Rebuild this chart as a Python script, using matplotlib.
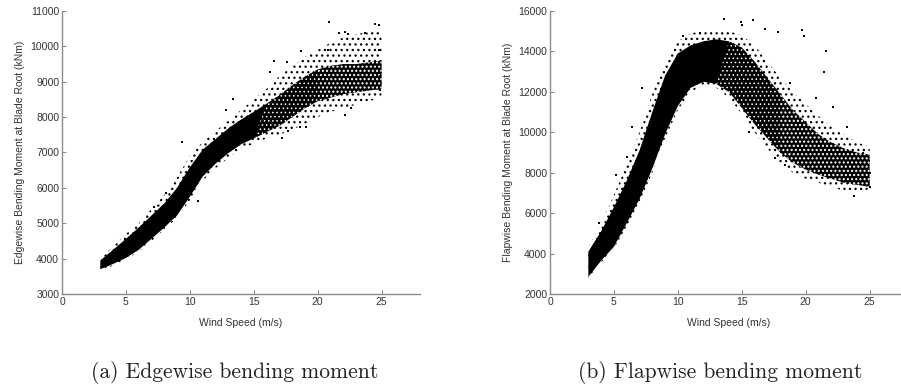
import matplotlib
matplotlib.use("Agg")
import matplotlib.pyplot as plt
import numpy as np

# ---------------- data ----------------
wind_speed = [3, 4, 5, 6, 7, 8, 9, 10, 11, 12, 13, 14, 15, 16, 17, 18, 19, 20, 21, 22, 23, 24, 25]

# Edgewise bending moment (kNm): dense core and sparser halo of the point cloud
edge_core_lo = [3700, 3850, 4020, 4250, 4560, 4880, 5220, 5750, 6320, 6680, 6980, 7230, 7400, 7580, 7750, 8000, 8250, 8450, 8550, 8650, 8700, 8750, 8800]
edge_core_hi = [3950, 4250, 4560, 4880, 5220, 5560, 6000, 6580, 7080, 7380, 7680, 7930, 8150, 8380, 8620, 8900, 9150, 9350, 9450, 9500, 9500, 9550, 9600]
edge_halo_lo = [3680, 3800, 3980, 4200, 4500, 4820, 5150, 5650, 6200, 6550, 6850, 7100, 7250, 7400, 7500, 7650, 7800, 8000, 8150, 8250, 8350, 8450, 8550]
edge_halo_hi = [4000, 4350, 4700, 5000, 5400, 5800, 6300, 6900, 7300, 7600, 7900, 8200, 8500, 8800, 9150, 9450, 9700, 9900, 10100, 10250, 10350, 10400, 10450]
edge_out_ws = [9.4, 8.1, 10.6, 16.6, 17.6, 16.3, 13.4, 18.7, 20.8, 20.9, 21.7, 22.1, 22.4, 23.7, 24.5, 24.8, 24.8, 24.9, 24.9, 22.1, 22.6, 19.1, 18.6, 17.7, 17.2, 12.8, 7.2]
edge_out_m = [7300, 5850, 5620, 9600, 9570, 9270, 8510, 9870, 9910, 10690, 10370, 10400, 10350, 10370, 10630, 10600, 9900, 9150, 8780, 8060, 8270, 7730, 7730, 7600, 7420, 8200, 5450]

# Flapwise bending moment (kNm)
flap_core_lo = [2850, 3650, 4340, 5500, 6700, 8200, 9900, 11300, 12200, 12500, 12400, 12000, 11200, 10400, 9700, 9000, 8500, 8150, 7900, 7700, 7500, 7400, 7300]
flap_core_hi = [4100, 5100, 6300, 7600, 9100, 11000, 12800, 13900, 14300, 14500, 14600, 14500, 14200, 13500, 12700, 11900, 11100, 10500, 9900, 9500, 9200, 9000, 8900]
flap_halo_lo = [2800, 3550, 4250, 5350, 6550, 8000, 9700, 11100, 12000, 12300, 12200, 11700, 10900, 10000, 9200, 8500, 8000, 7700, 7500, 7300, 7100, 7000, 7200]
flap_halo_hi = [4300, 5500, 6900, 8400, 10000, 11900, 13500, 14500, 14900, 15000, 15000, 15000, 14800, 14300, 13500, 12700, 12000, 11400, 10800, 10300, 9900, 9500, 9300]
flap_out_ws = [19.7, 19.9, 21.6, 21.4, 23.8, 13.6, 15.9, 14.9, 15.0, 17.8, 16.8, 10.4, 11.7, 17.6, 18.4, 15.6, 23.4, 25.0, 25.0, 24.5, 23.2, 22.1, 20.8, 18.8, 6.4, 5.15, 3.85, 7.2, 6.0]
flap_out_m = [15060, 14760, 14040, 13000, 6850, 15590, 15560, 15470, 15310, 14980, 15090, 14760, 14900, 8710, 8380, 10030, 7970, 7310, 7970, 8960, 10280, 11270, 11680, 12420, 10280, 7890, 5530, 12170, 8790]

x_ticks = [0, 5, 10, 15, 20, 25]
edge_yticks = [3000, 4000, 5000, 6000, 7000, 8000, 9000, 10000, 11000]
flap_yticks = [2000, 4000, 6000, 8000, 10000, 12000, 14000, 16000]

# ---------------- figure ----------------
plt.rcParams['font.family'] = ['Liberation Sans', 'DejaVu Sans']

W, H = 901, 389
fig = plt.figure(figsize=(W / 100, H / 100), dpi=100)

axL = fig.add_axes([62 / W, 95 / H, 358 / W, 283 / H])
axR = fig.add_axes([550 / W, 95 / H, 358 / W, 283 / H])

ws = np.array(wind_speed)


def fill(ax, lo, hi, where, hatch_lw=None, **kw):
    if hatch_lw is not None:
        plt.rcParams['hatch.linewidth'] = hatch_lw
    p = ax.fill_between(ws, lo, hi, where=where, interpolate=True, linewidth=0, **kw)
    if hatch_lw is not None and hasattr(p, 'set_hatch_linewidth'):
        p.set_hatch_linewidth(hatch_lw)
    return p


def draw(ax, core_lo, core_hi, halo_lo, halo_hi, out_ws, out_m, dense_until, sparse_from):
    allx = np.ones_like(ws, dtype=bool)
    # sparse halo of scattered points
    fill(ax, halo_lo, halo_hi, allx, hatch_lw=0.9,
         facecolor='none', edgecolor='black', hatch='...')
    # dense, fully overlapping points
    fill(ax, core_lo, core_hi, ws <= dense_until, facecolor='black')
    # speckled part of the core (black with small white gaps)
    fill(ax, core_lo, core_hi, (ws >= dense_until) & (ws <= sparse_from), hatch_lw=0.6,
         facecolor='black', edgecolor='white', hatch='....')
    fill(ax, core_lo, core_hi, ws >= sparse_from, hatch_lw=1.0,
         facecolor='black', edgecolor='white', hatch='....')
    ax.scatter(out_ws, out_m, s=3, marker='s', color='black', linewidths=0)


draw(axL, edge_core_lo, edge_core_hi, edge_halo_lo, edge_halo_hi, edge_out_ws, edge_out_m, 16, 20)
draw(axR, flap_core_lo, flap_core_hi, flap_halo_lo, flap_halo_hi, flap_out_ws, flap_out_m, 14, 18)

for ax, yt, ylab in [(axL, edge_yticks, 'Edgewise Bending Moment at Blade Root (kNm)'),
                     (axR, flap_yticks, 'Flapwise Bending Moment at Blade Root (kNm)')]:
    ax.set_xlim(0, 28)
    ax.set_ylim(yt[0], yt[-1])
    ax.set_xticks(x_ticks)
    ax.set_yticks(yt)
    ax.set_xticklabels([str(v) for v in x_ticks])
    ax.set_yticklabels([str(v) for v in yt])
    for s in ['top', 'right']:
        ax.spines[s].set_visible(False)
    for s in ['left', 'bottom']:
        ax.spines[s].set_color('#8c8c8c')
        ax.spines[s].set_linewidth(1.0)
    ax.tick_params(direction='in', length=3, width=0.8, color='#8c8c8c',
                   labelsize=7.5, labelcolor='#333333', pad=2)
    ax.set_xlabel('Wind Speed (m/s)', fontsize=7.5, color='#333333', labelpad=1)
    ax.set_ylabel(ylab, fontsize=7.5, color='#333333', labelpad=4)
    ax.set_facecolor('none')

axR.xaxis.set_label_coords((729 - 550) / 358, -0.085)
axL.xaxis.set_label_coords((241 - 62) / 358, -0.085)

fig.text(235 / W, 16 / H, '(a) Edgewise bending moment', family='cmr10', fontsize=15.5,
         ha='center', va='center', color='#222222')
fig.text(720 / W, 16 / H, '(b) Flapwise bending moment', family='cmr10', fontsize=15.5,
         ha='center', va='center', color='#222222')

fig.savefig('out.png', dpi=100)
